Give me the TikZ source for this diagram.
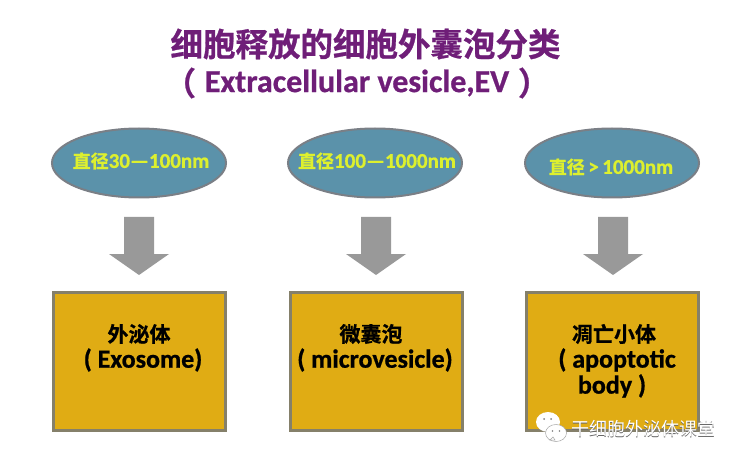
\documentclass[tikz,border=0pt]{standalone}
\usepackage{fontspec}
\setmainfont{Carlito}
\newfontfamily\cjk{Noto Sans CJK SC}
\newfontfamily\cjkb{Noto Sans CJK SC Bold}[FakeBold=0.8]
\newfontfamily\latb{Carlito Bold}[FakeBold=0.8]
\usetikzlibrary{calc,shapes.geometric}
\definecolor{titlepurple}{HTML}{6F1E78}
\definecolor{ovalfill}{HTML}{5B92AA}
\definecolor{ovalline}{HTML}{7A7F86}
\definecolor{textyellow}{HTML}{DDF02E}
\definecolor{arrowgray}{HTML}{999999}
\definecolor{boxfill}{HTML}{E0AC14}
\definecolor{boxline}{HTML}{85806A}
\newcommand{\zh}[1]{{\cjkb #1}}
\newcommand{\en}[1]{{\latb #1}}
\newcommand{\blockarrow}[2]{%
  \fill[arrowgray] ($(#1)+(-15,0)$) -- ($(#1)+(15,0)$) -- ($(#1)+(15,37)$) -- ($(#1)+(30,37)$)
   -- (#2) -- ($(#1)+(-30,37)$) -- ($(#1)+(-15,37)$) -- cycle;}
\tikzset{
  oval/.style={ellipse,draw=ovalline,fill=ovalfill,line width=2pt,inner sep=0pt},
  box/.style={draw=boxline,fill=boxfill,line width=3pt},
  lab/.style={inner sep=0pt,text=textyellow,font=\fontsize{18}{20}\selectfont,anchor=center},
  boxt/.style={inner sep=0pt,text=black,font=\fontsize{21}{24}\selectfont,anchor=center},
  boxe/.style={inner sep=0pt,text=black,font=\fontsize{26}{28}\selectfont,anchor=center},
  ttl/.style={inner sep=0pt,text=titlepurple,font=\fontsize{32}{36}\selectfont,anchor=center}
}
\begin{document}
\begin{tikzpicture}[x=1pt,y=-1pt]
\useasboundingbox (0,0) rectangle (738,462);
\fill[white] (0,0) rectangle (738,462);
\node[ttl,font=\fontsize{32.5}{36}\selectfont] (t1) at (365.5,44) {\zh{细胞释放的细胞外囊泡分类}};
\node[ttl] (t2) at (357,83) {\en{Extracellular vesicle,EV}};
\node[ttl] (t2l) at (180,83) {\zh{（}};
\node[ttl] (t2r) at (534,83) {\zh{）}};
\foreach \n/\cx/\bx in {1/139/139,2/375/376,3/612/612}{
  \node[oval,minimum width=174pt,minimum height=69pt] (o\n) at (\cx,163) {};
  \draw[box] (\bx-86,292.5) rectangle (\bx+86,430);
}
\coordinate (a1) at (139,217); \coordinate (h1) at (139,275);
\coordinate (a2) at (376,217); \coordinate (h2) at (376,275);
\coordinate (a3) at (613,217); \coordinate (h3) at (613,275);
\blockarrow{a1}{h1}\blockarrow{a2}{h2}\blockarrow{a3}{h3}
\node[lab] (l1) at (141,161) {\zh{直径}{\fontsize{21}{24}\selectfont\en{30—100nm}}};
\node[lab] (l2) at (377,161) {\zh{直径}{\fontsize{21}{24}\selectfont\en{100—1000nm}}};
\node[lab] (l3) at (611,167) {\zh{直径}{\fontsize{21}{24}\selectfont\en{\,>\,1000nm}}};
\node[boxt] (b1a) at (139,334) {\zh{外泌体}};
\node[boxe] (b1b) at (143,360) {\en{( Exosome)}};
\node[boxt] (b2a) at (371,334) {\zh{微囊泡}};
\node[boxe] (b2b) at (375,360) {\en{( microvesicle)}};
\node[boxt] (b3a) at (614,334) {\zh{凋亡小体}};
\node[boxe] (b3b) at (617,360) {\en{( apoptotic}};
\node[boxe] (b3c) at (612,386) {\en{body )}};
% watermark icon
\fill[white] (548,422) ellipse (12 and 10);
\fill[white,draw=gray!70,line width=.5pt] (556,433) ellipse (10.5 and 8.5);
\fill[gray] (544,419) circle (1) (551,419) circle (1) (552.5,431) circle (.9) (559.5,431) circle (.9);
\fill[white,draw=gray!70,line width=.5pt] (550,440) -- (553,437) -- (555,440) -- cycle;
\node[inner sep=0pt,text=gray!80!black,font=\fontsize{18}{20}\selectfont] (w0) at (643.7,429.7) {{\cjk 干细胞外泌体课堂}};
\node[inner sep=0pt,text=white,font=\fontsize{18}{20}\selectfont] (w1) at (643,429) {{\cjk 干细胞外泌体课堂}};
\end{tikzpicture}
\end{document}
